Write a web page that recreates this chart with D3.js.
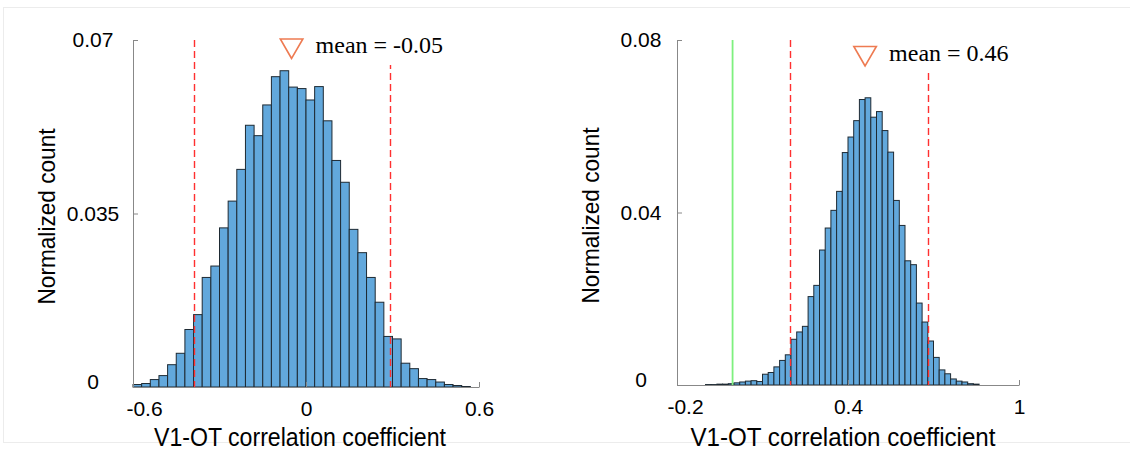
<!DOCTYPE html>
<html>
<head>
<meta charset="utf-8">
<script src="https://cdn.jsdelivr.net/npm/d3@7"></script>
<style>
  body { margin: 0; background: #fff; }
  svg { font-family: "Liberation Sans", Arial, sans-serif; }
</style>
</head>
<body>
<div id="container"></div>
<script>
const width = 1130;
const height = 452;

// left histogram: bins of 0.03 starting at -0.6
const leftBinStart = -0.6;
const leftBinWidth = 0.03;
const leftCounts = [0.0005, 0.0007, 0.0015, 0.0023, 0.0045, 0.0068, 0.0116, 0.0146, 0.0221, 0.0244,
  0.0321, 0.0375, 0.0439, 0.0528, 0.0507, 0.0569, 0.0626, 0.0638, 0.0605, 0.0602,
  0.0579, 0.0606, 0.0537, 0.0457, 0.0413, 0.0318, 0.0271, 0.0221, 0.0171, 0.0102,
  0.0097, 0.0048, 0.0037, 0.0017, 0.0015, 0.0010, 0.0005, 0.0003, 0.0001, 0];
const leftXTicks = [-0.6, 0, 0.6];
const leftYTicks = [0, 0.035, 0.07];
const leftBounds = [-0.39, 0.29];
const leftMean = -0.05;

// right histogram: bins of 0.02 starting at -0.2
const rightBinStart = -0.2;
const rightBinWidth = 0.02;
const rightCounts = [0, 0, 0, 0, 0, 0.0001, 0.0001, 0.0002, 0.0002, 0.0003,
  0.0005, 0.0007, 0.0009, 0.0010, 0.0008, 0.0025, 0.0029, 0.0042, 0.0057, 0.0070,
  0.0106, 0.0123, 0.0136, 0.0205, 0.0231, 0.0313, 0.0364, 0.0405, 0.0449, 0.0539,
  0.0575, 0.0613, 0.0662, 0.0666, 0.0621, 0.0634, 0.0590, 0.0540, 0.0428, 0.0370,
  0.0288, 0.0279, 0.0190, 0.0146, 0.0102, 0.0064, 0.0035, 0.0026, 0.0014, 0.0009,
  0.0007, 0.0003, 0.0002, 0, 0, 0, 0, 0, 0, 0];
const rightXTicks = [-0.2, 0.4, 1];
const rightYTicks = [0, 0.04, 0.08];
const rightBounds = [0.195, 0.68];
const rightMean = 0.46;
const rightReference = -0.005;

const svg = d3.select("div#container")
  .append("svg")
  .attr("width", width)
  .attr("height", height);

svg.append("rect")
  .attr("x", 3.5).attr("y", 7.5)
  .attr("width", width).attr("height", 435)
  .attr("fill", "none")
  .attr("stroke", "#ececec");

function panel(p) {
  const x = d3.scaleLinear().domain([p.xTicks[0], p.xTicks[2]]).range([p.left, p.right]);
  const y = d3.scaleLinear().domain([0, p.yTicks[2]]).range([p.bottom, p.top]);
  const g = svg.append("g");

  const bins = p.counts.map((v, i) => ({
    x0: p.binStart + i * p.binWidth,
    x1: p.binStart + (i + 1) * p.binWidth,
    v
  })).filter(d => d.v > 0);

  g.selectAll("rect.bar")
    .data(bins)
    .join("rect")
    .attr("class", "bar")
    .attr("x", d => x(d.x0))
    .attr("y", d => y(d.v))
    .attr("width", d => x(d.x1) - x(d.x0))
    .attr("height", d => y(0) - y(d.v))
    .attr("fill", "#62a8dc")
    .attr("stroke", "#1e2a33")
    .attr("stroke-width", 1);

  // dashed bounds
  g.selectAll("line.bound")
    .data(p.bounds)
    .join("line")
    .attr("class", "bound")
    .attr("x1", d => Math.round(x(d)) + 0.5).attr("x2", d => Math.round(x(d)) + 0.5)
    .attr("y1", y(p.yTicks[2])).attr("y2", y(0))
    .attr("stroke", "#ff3030")
    .attr("stroke-width", 1.4)
    .attr("stroke-dasharray", "7,4");

  if (p.reference !== undefined) {
    g.append("line")
      .attr("x1", x(p.reference)).attr("x2", x(p.reference))
      .attr("y1", y(p.yTicks[2])).attr("y2", y(0))
      .attr("stroke", "#7ef07e")
      .attr("stroke-width", 1.8);
  }

  // axes
  const yAxis = g.append("g")
    .attr("transform", `translate(${p.left},0)`)
    .call(d3.axisLeft(y).tickValues(p.yTicks).tickSizeInner(-5).tickSizeOuter(0)
      .tickFormat(d => String(d)));
  yAxis.selectAll("text")
    .attr("x", -p.yLabelOffset)
    .attr("dy", (d, i) => i === 0 ? "0.05em" : "0.32em")
    .attr("text-anchor", "middle")
    .attr("font-size", 21)
    .attr("fill", "#000");

  const xAxis = g.append("g")
    .attr("transform", `translate(0,${p.bottom})`)
    .call(d3.axisBottom(x).tickValues(p.xTicks).tickSizeInner(-5).tickSizeOuter(0)
      .tickFormat(d => String(d)));
  xAxis.selectAll("text")
    .attr("y", 14)
    .attr("dx", (d, i) => i === 0 ? p.firstTickShift : 0)
    .attr("font-size", 21)
    .attr("fill", "#000");

  [yAxis, xAxis].forEach(a => {
    a.attr("font-family", null);
    a.select(".domain").attr("stroke", "#888");
    a.selectAll(".tick line").attr("stroke", "#888");
  });

  // legend
  g.append("rect")
    .attr("x", x(p.mean) - 20).attr("y", p.legendTop)
    .attr("width", 175).attr("height", p.legendBottom - p.legendTop)
    .attr("fill", "#fff");

  g.append("path")
    .attr("d", d3.symbol().type(d3.symbolTriangle).size(220)())
    .attr("transform", `translate(${x(p.mean)},${p.markerY}) rotate(180)`)
    .attr("fill", "none")
    .attr("stroke", "#ee7b52")
    .attr("stroke-width", 1.6);

  g.append("text")
    .attr("x", x(p.mean) + 24)
    .attr("y", p.markerY + 7.5)
    .style("font-family", "'Liberation Serif', 'Times New Roman', serif")
    .attr("font-size", 24)
    .text(`mean = ${p.mean}`);

  // axis titles
  g.append("text")
    .attr("transform", `translate(${p.left - 86},${(p.top + p.bottom) / 2 + 3}) rotate(-90)`)
    .attr("text-anchor", "middle")
    .attr("dy", "0.35em")
    .attr("font-size", 24)
    .attr("textLength", 176)
    .attr("lengthAdjust", "spacingAndGlyphs")
    .text("Normalized count");

  g.append("text")
    .attr("x", (p.left + p.right) / 2 + p.xTitleShift)
    .attr("y", 446)
    .attr("text-anchor", "middle")
    .attr("font-size", 25)
    .attr("textLength", p.xTitleLength)
    .attr("lengthAdjust", "spacingAndGlyphs")
    .text("V1-OT correlation coefficient");
}

panel({
  counts: leftCounts, binStart: leftBinStart, binWidth: leftBinWidth,
  xTicks: leftXTicks, yTicks: leftYTicks, bounds: leftBounds, mean: leftMean,
  left: 133, right: 479, top: 40, bottom: 387,
  yLabelOffset: 40, firstTickShift: 11,
  markerY: 45.5, legendTop: 28, legendBottom: 65,
  xTitleShift: -6, xTitleLength: 292
});

panel({
  counts: rightCounts, binStart: rightBinStart, binWidth: rightBinWidth,
  xTicks: rightXTicks, yTicks: rightYTicks, bounds: rightBounds, mean: rightMean,
  reference: rightReference,
  left: 677, right: 1019, top: 40, bottom: 385,
  yLabelOffset: 36, firstTickShift: 8,
  markerY: 53, legendTop: 36, legendBottom: 72,
  xTitleShift: -5, xTitleLength: 305
});
</script>
</body>
</html>
